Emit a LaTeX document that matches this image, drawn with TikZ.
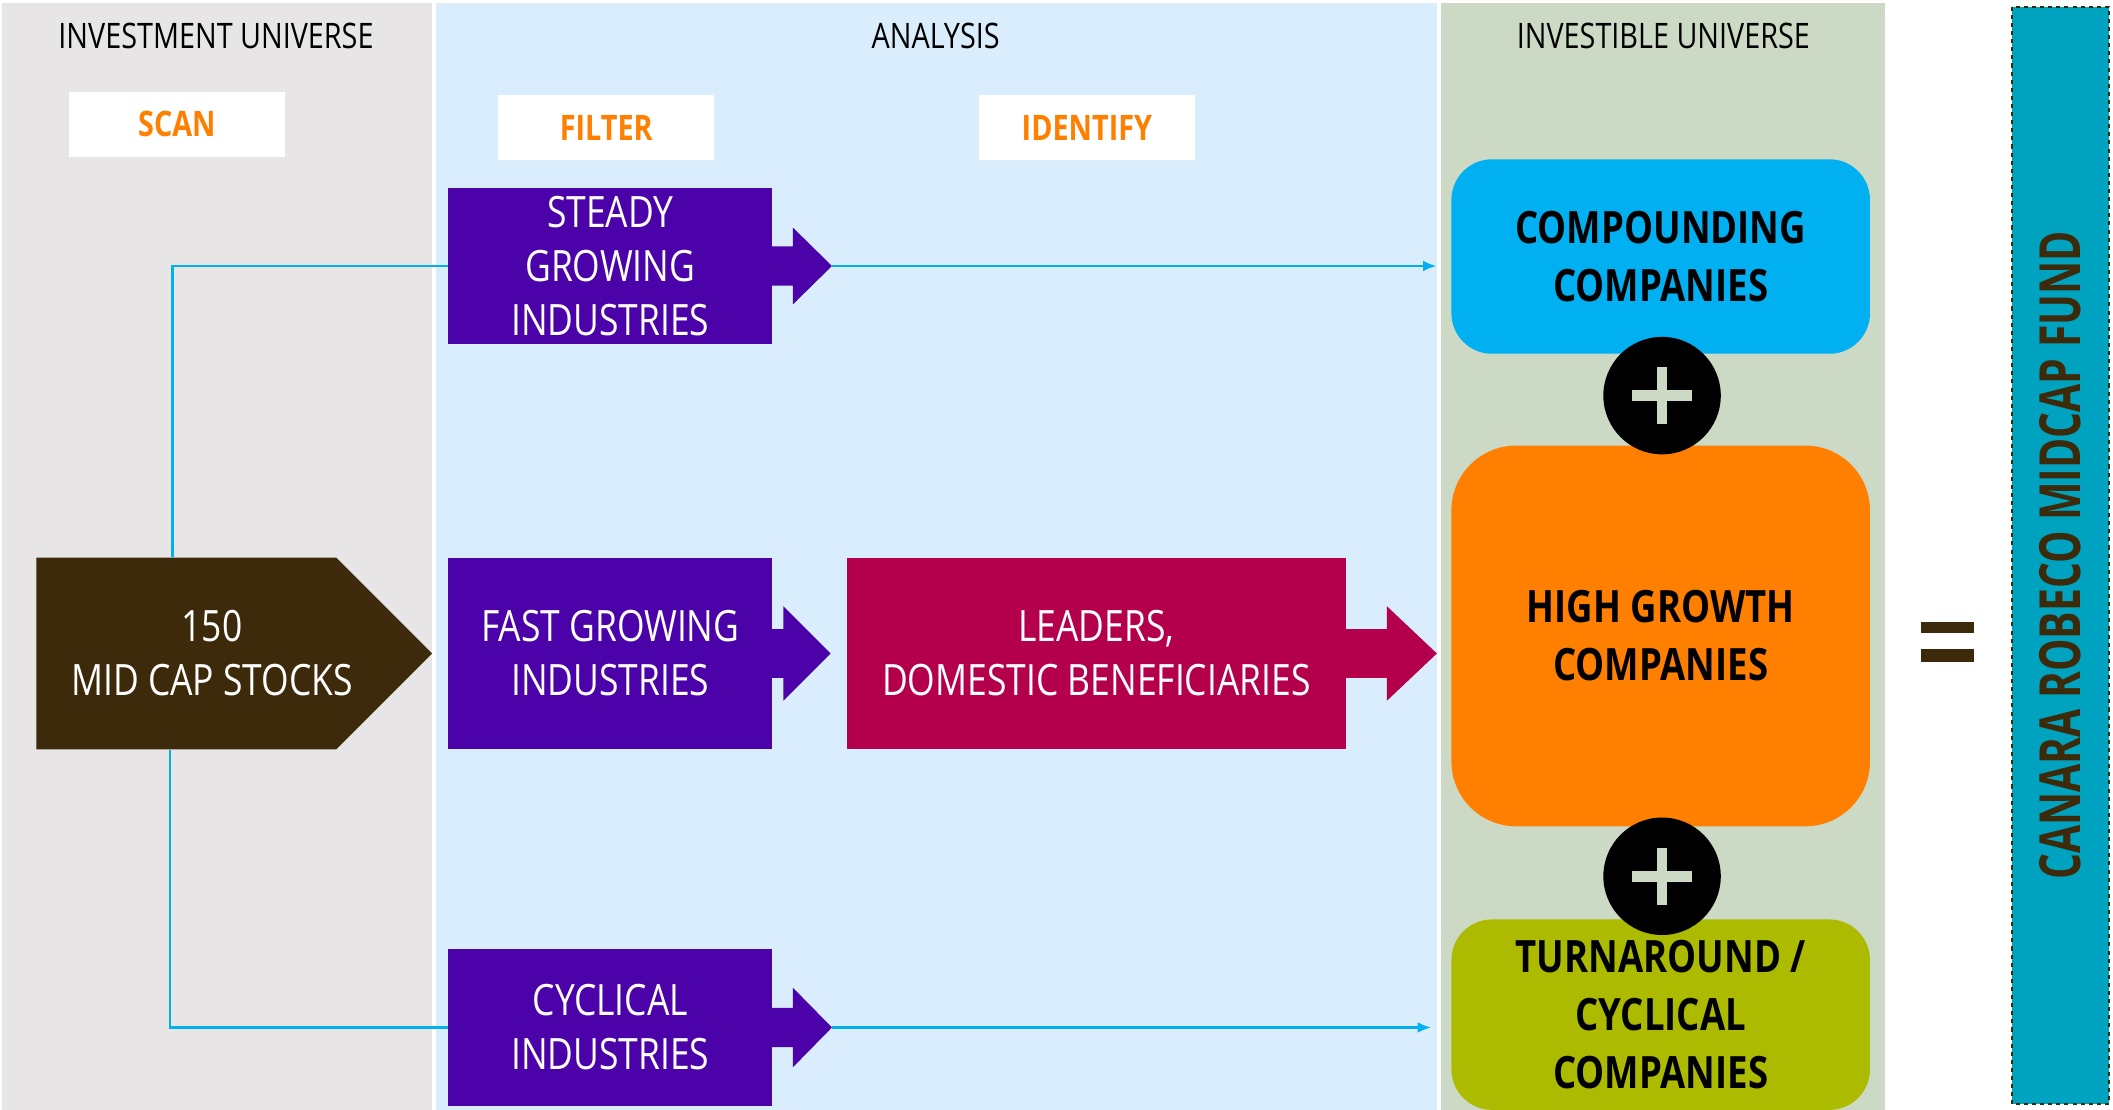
\documentclass[tikz,border=0pt]{standalone}
\usepackage{fontspec}
\setmainfont[FakeStretch=0.82]{Open Sans}
\newfontfamily\fundfont[FakeStretch=0.72]{Open Sans}
\usetikzlibrary{arrows.meta, positioning, calc}

\definecolor{uniGray}{HTML}{E7E5E6}
\definecolor{anaBlue}{HTML}{DAEDFD}
\definecolor{invGreen}{HTML}{CCD9C4}
\definecolor{stageOrange}{HTML}{FF7F00}
\definecolor{sectorPurple}{HTML}{4B02A8}
\definecolor{leaderRed}{HTML}{B4004C}
\definecolor{stockBrown}{HTML}{3D2A0A}
\definecolor{linkBlue}{HTML}{00B0F0}
\definecolor{compBlue}{HTML}{00B0F0}
\definecolor{growthOrange}{HTML}{FF7F00}
\definecolor{turnOlive}{HTML}{ADBB00}
\definecolor{fundTeal}{HTML}{00A3BF}

\tikzstyle{panel} = [rectangle, 
			inner sep=0pt, 
			anchor=north west, 
			minimum height=820pt]
\tikzstyle{colhead} = [font=\fontsize{26}{30}\selectfont]
\tikzstyle{stage} = [rectangle, 
			fill=white, 
			minimum width=160pt, 
			minimum height=48pt, 
			text=stageOrange, 
			font=\bfseries\fontsize{26}{30}\selectfont]
\tikzstyle{sector} = [rectangle, 
			fill=sectorPurple, 
			text=white, 
			inner sep=0pt, 
			minimum width=240pt, 
			align=center, 
			font=\fontsize{32}{40}\selectfont]
\tikzstyle{company} = [rectangle, 
			rounded corners=30pt, 
			inner sep=0pt, 
			minimum width=310pt, 
			align=center, 
			font=\bfseries\fontsize{33}{43}\selectfont]
\tikzstyle{plusdot} = [circle, 
			fill=black, 
			minimum size=87pt, 
			path picture={\draw[invGreen, line width=8pt] 
				([xshift=-22pt]path picture bounding box.center) -- ([xshift=22pt]path picture bounding box.center)
				([yshift=-21pt]path picture bounding box.center) -- ([yshift=21pt]path picture bounding box.center);}]
\tikzstyle{fundbar} = [rectangle, 
			rotate=90, 
			minimum width=813pt, 
			minimum height=72pt, 
			fill=fundTeal, 
			draw=stockBrown, 
			dashed, 
			line width=1.5pt, 
			text=stockBrown, 
			font=\fundfont\bfseries\fontsize{42}{48}\selectfont]
\tikzstyle{line} = [draw=linkBlue, line width=2pt]
\tikzstyle{link} = [line, -{Latex[length=10pt, width=8pt]}]

\begin{document}
\begin{tikzpicture}[x=1pt, y=-1pt]
	\useasboundingbox (0,0) rectangle (1565,821.4);
	\node [panel, fill=uniGray, minimum width=319pt] (universe) at (1,2) {};
	\node [panel, fill=anaBlue, minimum width=741pt] (analysis) at (323,2) {};
	\node [panel, fill=invGreen, minimum width=329pt] (investible) at (1067,2) {};
	\node [colhead] (unihead) at (160,27) {INVESTMENT UNIVERSE};
	\node [colhead] (anahead) at (693,27) {ANALYSIS};
	\node [colhead] (invhead) at (1232,27) {INVESTIBLE UNIVERSE};
	\node [stage] (scan) at (131,92) {SCAN};
	\node [stage] (filter) at (449,94.5) {FILTER};
	\node [stage] (identify) at (805,94.5) {IDENTIFY};

	\fill [stockBrown] (27,413) -- (249,413) -- (320,484) -- (249,555) -- (27,555) -- cycle;
	\node [align=center, text=white, inner sep=0pt, minimum width=260pt, minimum height=142pt, 
		font=\fontsize{32}{40}\selectfont] (stocks) at (157,484) {150\\MID CAP STOCKS};

	\node [sector, minimum height=116pt] (steady) at (452,197) {STEADY\\GROWING\\INDUSTRIES};
	\fill [sectorPurple] (steady.east) ++(-1,-14.5) -- ++(16,0) -- ++(0,-14) -- ++(29,28.5) coordinate (steadytip)
		-- ++(-29,28.5) -- ++(0,-14) -- ++(-16,0) -- cycle;
	\node [sector, minimum height=142pt] (fast) at (452,484) {FAST GROWING\\INDUSTRIES};
	\fill [sectorPurple] (fast.east) ++(-1,-18) -- ++(9,0) -- ++(0,-17) -- ++(35,35)
		-- ++(-35,35) -- ++(0,-17) -- ++(-9,0) -- cycle;
	\node [sector, minimum height=117pt] (cyclical) at (452,761) {CYCLICAL\\INDUSTRIES};
	\fill [sectorPurple] (cyclical.east) ++(-1,-14.5) -- ++(16,0) -- ++(0,-15) -- ++(29,29.5) coordinate (cyclicaltip)
		-- ++(-29,29.5) -- ++(0,-15) -- ++(-16,0) -- cycle;
	\node [sector, fill=leaderRed, minimum width=370pt, minimum height=142pt] (leaders) at (812,484) {LEADERS,\\DOMESTIC BENEFICIARIES};
	\fill [leaderRed] (leaders.east) ++(-1,-18) -- ++(31,0) -- ++(0,-17) -- ++(37,35)
		-- ++(-37,35) -- ++(0,-17) -- ++(-31,0) -- cycle;

	\path [line] ([xshift=-29pt]stocks.north) |- (steady.west);
	\path [line] ([xshift=-31pt]stocks.south) |- (cyclical.west);
	\path [link, shorten >=3pt] (steadytip) -- (steadytip -| investible.west);
	\path [link, shorten >=7pt] (cyclicaltip) -- (cyclicaltip -| investible.west);

	\node [company, fill=compBlue, minimum height=144pt] (compounding) at (1230,190) {COMPOUNDING\\COMPANIES};
	\node [company, fill=growthOrange, rounded corners=48pt, minimum height=282pt] (growth) at (1230,471) {HIGH GROWTH\\COMPANIES};
	\node [company, fill=turnOlive, minimum height=141pt] (turnaround) at (1230,751.5) {TURNAROUND /\\CYCLICAL\\COMPANIES};
	\node [plusdot] (plustop) at (1231,293) {};
	\node [plusdot] (plusbottom) at (1231,649) {};

	\fill [stockBrown] (1423,461) rectangle (1462,469);
	\fill [stockBrown] (1423,481) rectangle (1462,490);
	\node [fundbar] (fund) at (1526,411.5) {CANARA ROBECO MIDCAP FUND};
\end{tikzpicture}
\end{document}
